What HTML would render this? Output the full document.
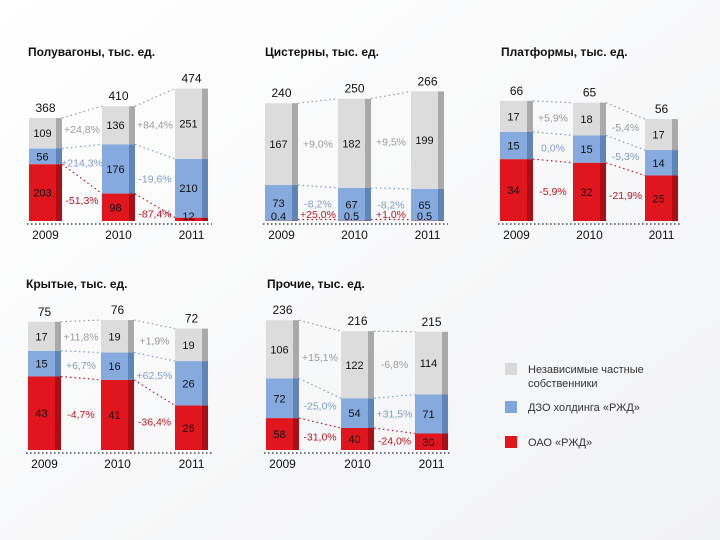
<!DOCTYPE html>
<html><head><meta charset="utf-8">
<style>
body{margin:0;background:#fff;}
svg{display:block;font-family:"Liberation Sans","DejaVu Sans",sans-serif;}
</style></head>
<body>
<svg id="chart" width="720" height="540" viewBox="0 0 720 540">
<defs>
<linearGradient id="bg" x1="0" y1="0" x2="1" y2="1"><stop offset="0" stop-color="#ffffff"/><stop offset="1" stop-color="#f1f2f4"/></linearGradient>
</defs>
<rect width="720" height="540" fill="url(#bg)"/>
<g id="panels"></g>
<g>
<rect x="505" y="363" width="12" height="12" fill="#d9d9d9"/>
<text x="528" y="373" font-size="11" fill="#333">Независимые частные</text>
<text x="528" y="387" font-size="11" fill="#333">собственники</text>
<rect x="505" y="401" width="12" height="12" fill="#7ea6dc"/>
<text x="528" y="411" font-size="11" fill="#333">ДЗО холдинга «РЖД»</text>
<rect x="505" y="436" width="12" height="12" fill="#e0151d"/>
<text x="528" y="446" font-size="11" fill="#333">ОАО «РЖД»</text>
</g>
</svg>
<script>
const years = ["2009","2010","2011"];
const titles = ["Полувагоны, тыс. ед.","Цистерны, тыс. ед.","Платформы, тыс. ед.","Крытые, тыс. ед.","Прочие, тыс. ед."];
const totals = [["368","410","474"],["240","250","266"],["66","65","56"],["75","76","72"],["236","216","215"]];
const redVals = [[203,98,12],[0.4,0.5,0.5],[34,32,25],[43,41,26],[58,40,30]];
const blueVals = [[56,176,210],[73,67,65],[15,15,14],[15,16,26],[72,54,71]];
const grayVals = [[109,136,251],[167,182,199],[17,18,17],[17,19,19],[106,122,114]];
const grayPct = [["+24,8%","+84,4%"],["+9,0%","+9,5%"],["+5,9%","-5,4%"],["+11,8%","+1,9%"],["+15,1%","-6,8%"]];
const bluePct = [["+214,3%","-19,6%"],["-8,2%","-8,2%"],["0,0%","-5,3%"],["+6,7%","+62,5%"],["-25,0%","+31,5%"]];
const redPct = [["-51,3%","-87,4%"],["+25,0%","+1,0%"],["-5,9%","-21,9%"],["-4,7%","-36,4%"],["-31,0%","-24,0%"]];

const layout = [
 {x:[29,102,175], base:221, titleX:28, titleY:56, scale:0.28},
 {x:[265,338,411], base:221, titleX:265, titleY:56, scale:0.49},
 {x:[500,573,645], base:221, titleX:501, titleY:56, scale:1.82},
 {x:[28,101,175], base:450, titleX:26, titleY:288, scale:1.71},
 {x:[266,341,415], base:450, titleX:267, titleY:288, scale:0.55}
];
const W = 33;
const fills = {red:["#e0151d","#a90f14"], blue:["#86aade","#5f84b8"], gray:["#dcdcdc","#a9a9a9"]};
const txtCol = {red:"#c0141c", blue:"#7d9cc8", gray:"#999"};
const NS = "http://www.w3.org/2000/svg";
const root = document.getElementById("panels");
function mk(tag, attrs, parent){const e=document.createElementNS(NS,tag);for(const k in attrs)e.setAttribute(k,attrs[k]);parent.appendChild(e);return e;}

for (let p=0;p<5;p++){
  const L = layout[p];
  const g = mk("g",{},root);
  
  
  const yv = v => L.base - v*L.scale;
  const t = mk("text",{x:L.titleX,y:L.titleY,"font-size":"12","font-weight":"bold",fill:"#111"},g);
  t.textContent = titles[p];
  
  
  const segs = [];
  for (let i=0;i<3;i++){
    const r=redVals[p][i], b=blueVals[p][i], gr=grayVals[p][i];
    const layers = [["red",0,r],["blue",r,r+b],["gray",r+b,r+b+gr]];
    const s = {};
    layers.forEach(([k,a,c])=>{
      const y1=yv(c), y0=yv(a);
      const h=Math.max(y0-y1,1.5);
      const rc = mk("rect",{x:L.x[i],y:y0-h,width:W-6,height:h,fill:fills[k][0]},g);
      
      
      const ed = mk("rect",{x:L.x[i]+W-6,y:y0-h,width:6,height:h,fill:fills[k][1]},g);
      
      
      s[k]={top:y0-h,bot:y0};
    });
    segs.push(s);
    const vals={red:r,blue:b,gray:gr};
    ["gray","blue","red"].forEach(k=>{
      let cy=(s[k].top+s[k].bot)/2+4;
      if (s[k].bot-s[k].top<10) cy = k==="red"? s[k].bot-1 : Math.min(cy, s[k].bot-1);
      const tx = mk("text",{x:L.x[i]+(W-6)/2,y:cy,"font-size":"11","text-anchor":"middle",fill:"#111"},g);
      tx.textContent = String(vals[k]);
      
      
    });
    const tt = mk("text",{x:L.x[i]+W/2,y:s.gray.top-6,"font-size":"12","text-anchor":"middle",fill:"#111"},g);
    tt.textContent = totals[p][i];
    
    
    const yl = mk("text",{x:L.x[i]+W/2,y:L.base+18,"font-size":"12","text-anchor":"middle",fill:"#111"},g);
    yl.textContent = years[i];
    
    
  }
  const bl = mk("line",{x1:L.x[0]-2,x2:L.x[2]+W+4,y1:L.base+3,y2:L.base+3,stroke:"#222","stroke-width":"1.2","stroke-dasharray":"1.5,2.5"},g);
  
  
  const pcts={gray:grayPct[p],blue:bluePct[p],red:redPct[p]};
  for (let i=0;i<2;i++){
    ["gray","blue","red"].forEach(k=>{
      const ln = mk("line",{x1:L.x[i]+W,y1:segs[i][k].top,x2:L.x[i+1],y2:segs[i+1][k].top,stroke:txtCol[k],"stroke-width":"1.2","stroke-dasharray":"1.5,3"},g);
      
      
      let cy=((segs[i][k].top+segs[i][k].bot)/2+(segs[i+1][k].top+segs[i+1][k].bot)/2)/2+4;
      if (k==="red") cy=Math.min(cy,L.base-3);
      const pt = mk("text",{x:(L.x[i]+W+L.x[i+1])/2,y:cy,"font-size":"10.5","text-anchor":"middle",fill:txtCol[k]},g);
      pt.textContent = pcts[k][i];
      
      
    });
  }
}
</script>
</body></html>
